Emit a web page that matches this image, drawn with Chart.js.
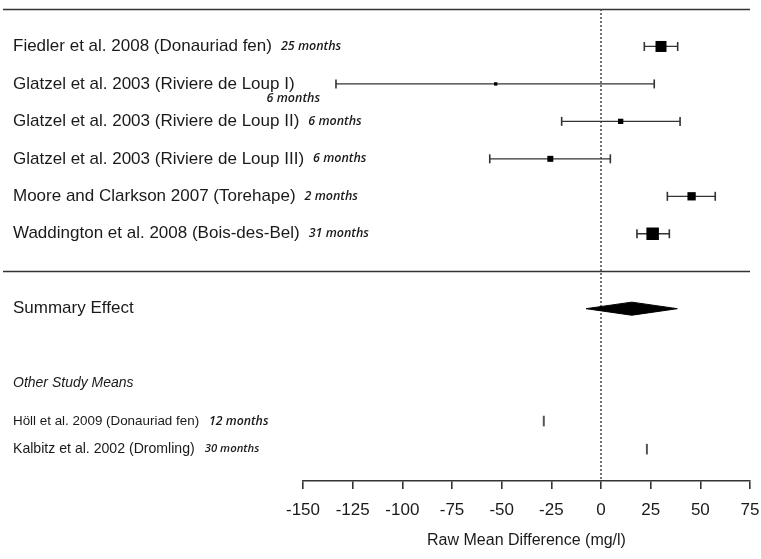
<!DOCTYPE html>
<html><head><meta charset="utf-8">
<script src="https://cdn.jsdelivr.net/npm/chart.js@4/dist/chart.umd.min.js"></script>
<style>html,body{margin:0;padding:0;background:#fff}canvas{display:block}</style>
</head><body>
<canvas id="c" width="761" height="559"></canvas>
<script>
// ---- data ----
const studies = [
  "Fiedler et al. 2008 (Donauriad fen)",
  "Glatzel et al. 2003 (Riviere de Loup I)",
  "Glatzel et al. 2003 (Riviere de Loup II)",
  "Glatzel et al. 2003 (Riviere de Loup III)",
  "Moore and Clarkson 2007 (Torehape)",
  "Waddington et al. 2008 (Bois-des-Bel)"
];
const durations = [25, 6, 6, 6, 2, 31];            // months
const means     = [30.2, -53.0, 9.9, -25.5, 45.6, 26.0];
const lower     = [21.8, -133.4, -19.8, -56.0, 33.4, 18.1];
const upper     = [38.6, 26.8, 39.8, 4.7, 57.5, 34.4];
const weights   = [11, 3.4, 5.3, 6, 8.3, 12.5];      // relative study weight (marker size)

const summaryLabel = "Summary Effect";
const summaryMean  = [15.5];
const summaryLower = [-7.5];
const summaryUpper = [38.4];

const otherHeader    = "Other Study Means";
const otherStudies   = ["Höll et al. 2009 (Donauriad fen)", "Kalbitz et al. 2002 (Dromling)"];
const otherDurations = [12, 30];
const otherMeans     = [-28.8, 23.1];

const xTicks = [-150, -125, -100, -75, -50, -25, 0, 25, 50, 75];
const xTitle = "Raw Mean Difference (mg/l)";

// ---- layout (row positions on hidden y scale) ----
const studyRow = i => i + 1;
const RULE_ROWS = [0, 7];
const SUMMARY_ROW = 8;
const OTHER_HEADER_ROW = 10;
const otherRow = i => 11 + i * 0.75;
const Y_MAX = 12.6;
const DIAMOND_HALF = 0.175;
const WRAPPED_DURATION = 1; // index whose duration label sits below the name

const SANS = "'Liberation Sans', Arial, sans-serif";
const MONTHS = "'Open Sans', 'Noto Sans', sans-serif";
const INK = '#1a1a1a';
const LINE = '#333';

const datasets = [];

// squares
datasets.push({
  data: means.map((m, i) => ({x: m, y: studyRow(i)})),
  pointStyle: 'rect',
  pointRadius: weights.map(w => w / Math.SQRT2),
  backgroundColor: '#000', borderColor: '#000', pointBorderWidth: 0,
  showLine: false
});
// confidence intervals
studies.forEach((s, i) => {
  datasets.push({
    data: [{x: lower[i], y: studyRow(i)}, {x: upper[i], y: studyRow(i)}],
    showLine: true, borderColor: LINE, borderWidth: 1.3,
    pointStyle: 'line', pointRotation: 90, pointRadius: 4.5,
    pointBorderColor: LINE, pointBorderWidth: 1.6
  });
});
// summary diamond
datasets.push({
  data: [
    {x: summaryLower[0], y: SUMMARY_ROW},
    {x: summaryMean[0], y: SUMMARY_ROW - DIAMOND_HALF},
    {x: summaryUpper[0], y: SUMMARY_ROW},
    {x: summaryMean[0], y: SUMMARY_ROW + DIAMOND_HALF},
    {x: summaryLower[0], y: SUMMARY_ROW}
  ],
  showLine: true, fill: 'shape', tension: 0,
  backgroundColor: '#000', borderColor: '#000', borderWidth: 1, pointRadius: 0
});
// other study means
datasets.push({
  data: otherMeans.map((m, i) => ({x: m, y: otherRow(i)})),
  showLine: false, pointStyle: 'line', pointRotation: 90, pointRadius: 5.3,
  pointBorderColor: '#555', pointBorderWidth: 2
});
// zero reference line
datasets.push({
  data: [{x: 0, y: 0}, {x: 0, y: Y_MAX}],
  showLine: true, borderColor: '#444', borderWidth: 1.5, borderDash: [2, 2],
  pointRadius: 0
});

const textPlugin = {
  id: 'forestText',
  beforeDatasetsDraw(chart) {
    const {ctx, chartArea, scales} = chart;
    ctx.save();
    ctx.strokeStyle = LINE; ctx.lineWidth = 1.6;
    RULE_ROWS.forEach(r => {
      const y = Math.round(scales.y.getPixelForValue(r)) + 0.5;
      ctx.beginPath(); ctx.moveTo(3, y); ctx.lineTo(chartArea.right, y); ctx.stroke();
    });
    ctx.restore();
  },
  afterDraw(chart) {
    const {ctx, scales} = chart;
    const yOf = r => scales.y.getPixelForValue(r);
    ctx.save();
    ctx.fillStyle = INK;
    ctx.textBaseline = 'middle';
    ctx.textAlign = 'left';
    const X0 = 13;
    studies.forEach((s, i) => {
      const y = yOf(studyRow(i));
      ctx.font = `17px ${SANS}`;
      ctx.fillText(s, X0, y);
      const w = ctx.measureText(s).width;
      ctx.font = `italic 600 12.5px ${MONTHS}`;
      const lab = `${durations[i]} months`;
      if (i === WRAPPED_DURATION) ctx.fillText(lab, X0 + w - 28, y + 15);
      else ctx.fillText(lab, X0 + w + 9, y);
    });
    ctx.font = `17px ${SANS}`;
    ctx.fillText(summaryLabel, X0, yOf(SUMMARY_ROW));
    ctx.font = `italic 14px ${SANS}`;
    ctx.fillText(otherHeader, X0, yOf(OTHER_HEADER_ROW));
    otherStudies.forEach((s, i) => {
      const y = yOf(otherRow(i));
      ctx.font = `${i === 0 ? 13.4 : 14.1}px ${SANS}`;
      ctx.fillText(s, X0, y);
      const w = ctx.measureText(s).width;
      ctx.font = `italic 600 ${i === 0 ? 12.3 : 11.3}px ${MONTHS}`;
      ctx.fillText(`${otherDurations[i]} months`, X0 + w + 10, y);
    });
    ctx.restore();
  }
};

new Chart(document.getElementById('c'), {
  type: 'scatter',
  data: {datasets},
  options: {
    responsive: false,
    animation: false,
    events: [],
    layout: {padding: {left: 303, right: 11, top: 9, bottom: 0}},
    plugins: {legend: {display: false}, tooltip: {enabled: false}},
    scales: {
      x: {
        type: 'linear', min: -150, max: 75,
        afterBuildTicks: s => { s.ticks = xTicks.map(v => ({value: v})); },
        afterFit: s => { s.height = 78; s.paddingLeft = 0; s.paddingRight = 0; },
        border: {display: true, color: LINE, width: 1.6},
        grid: {display: true, drawOnChartArea: false, drawTicks: true, tickLength: 8, color: LINE, lineWidth: 1.6},
        ticks: {font: {family: SANS, size: 17}, color: INK, padding: 11, maxRotation: 0, autoSkip: false},
        title: {display: true, text: xTitle, font: {family: SANS, size: 16}, color: INK, padding: {top: 4, bottom: 9}}
      },
      y: {type: 'linear', display: false, min: 0, max: Y_MAX, reverse: true}
    }
  },
  plugins: [textPlugin]
});
</script>
</body></html>
